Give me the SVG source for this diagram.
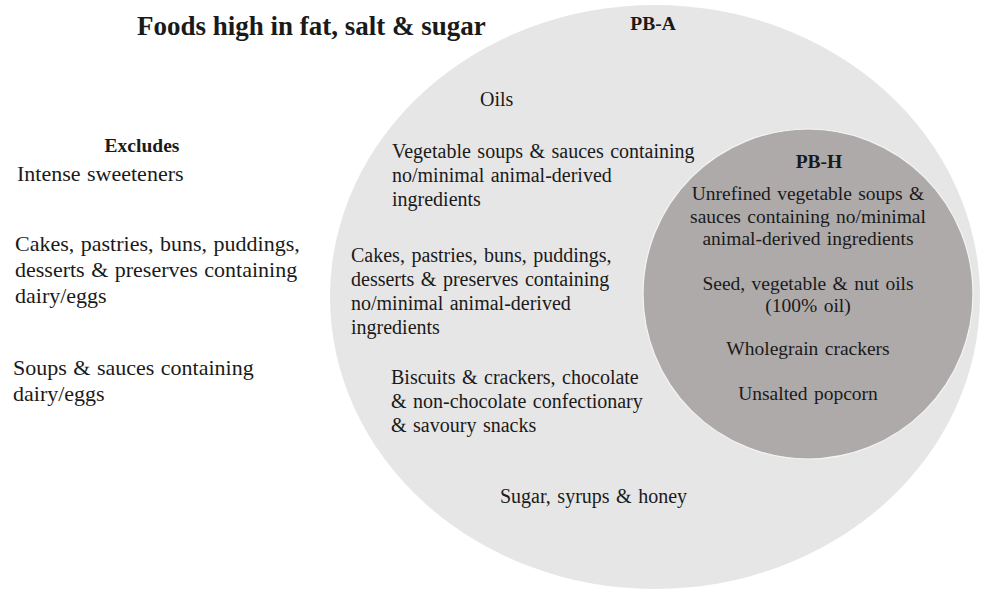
<svg xmlns="http://www.w3.org/2000/svg" width="985" height="590" viewBox="0 0 985 590">
  <style>
    text { font-family: "Liberation Serif", "Times New Roman", serif; fill: #1a1a1a; }
    .title { font-size: 27px; font-weight: bold; }
    .head { font-size: 19.5px; font-weight: bold; }
    .side { font-size: 22px; word-spacing: 1px; }
    .body { font-size: 20px; word-spacing: 1.5px; }
    .inner { font-size: 19.5px; text-anchor: middle; word-spacing: 1.5px; }
    .mid { text-anchor: middle; }
  </style>

  <!-- heading -->
  <g id="title">
    <text class="title" x="137" y="35">Foods high in fat, salt &amp; sugar</text>
  </g>

  <!-- excluded items, outside the sets -->
  <g id="excludes">
    <text class="head mid" x="142" y="152">Excludes</text>
    <text class="side" x="17" y="181">Intense sweeteners</text>
    <text class="side" x="15" y="251">Cakes, pastries, buns, puddings,</text>
    <text class="side" x="15" y="277">desserts &amp; preserves containing</text>
    <text class="side" x="15" y="303">dairy/eggs</text>
    <text class="side" x="13" y="375">Soups &amp; sauces containing</text>
    <text class="side" x="13" y="401">dairy/eggs</text>
  </g>

  <!-- outer set: PB-A -->
  <g id="pb-a">
    <ellipse cx="655" cy="297" rx="325" ry="292" fill="#e7e6e6"/>
    <text class="head mid" x="653" y="30">PB-A</text>
    <text class="body" x="480" y="106">Oils</text>
    <text class="body" x="392" y="158">Vegetable soups &amp; sauces containing</text>
    <text class="body" x="392" y="182">no/minimal animal-derived</text>
    <text class="body" x="392" y="206">ingredients</text>
    <text class="body" x="351" y="262">Cakes, pastries, buns, puddings,</text>
    <text class="body" x="351" y="286">desserts &amp; preserves containing</text>
    <text class="body" x="351" y="310">no/minimal animal-derived</text>
    <text class="body" x="351" y="334">ingredients</text>
    <text class="body" x="391" y="384">Biscuits &amp; crackers, chocolate</text>
    <text class="body" x="391" y="408">&amp; non-chocolate confectionary</text>
    <text class="body" x="391" y="432">&amp; savoury snacks</text>
    <text class="body" x="500" y="503">Sugar, syrups &amp; honey</text>
  </g>

  <!-- inner set: PB-H -->
  <g id="pb-h">
    <circle cx="808" cy="294" r="165" fill="#aeaaaa" stroke="#f4f4f4" stroke-width="1.2"/>
    <text class="head mid" x="819" y="168">PB-H</text>
    <text class="inner" x="808" y="200">Unrefined vegetable soups &amp;</text>
    <text class="inner" x="808" y="223">sauces containing no/minimal</text>
    <text class="inner" x="808" y="245">animal-derived ingredients</text>
    <text class="inner" x="808" y="290">Seed, vegetable &amp; nut oils</text>
    <text class="inner" x="808" y="312">(100% oil)</text>
    <text class="inner" x="808" y="355">Wholegrain crackers</text>
    <text class="inner" x="808" y="400">Unsalted popcorn</text>
  </g>
</svg>
